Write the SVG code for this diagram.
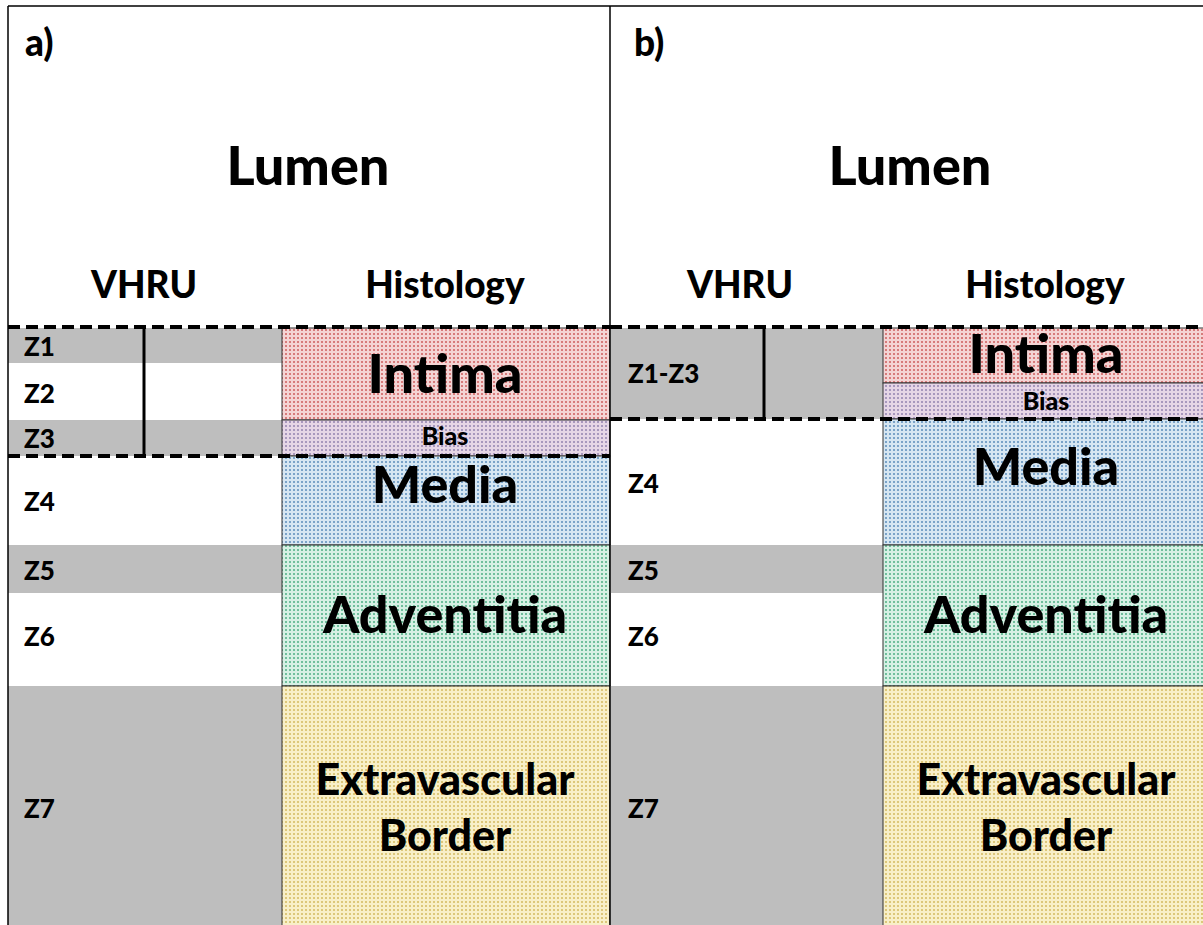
<svg xmlns="http://www.w3.org/2000/svg" width="1203" height="925" viewBox="0 0 1203 925">
<defs>
<pattern id="pInt" width="4" height="4" patternUnits="userSpaceOnUse"><rect width="4" height="4" fill="#f4d4d4"/><rect x="1" y="1" width="2" height="2" fill="#d77b7b"/></pattern>
<pattern id="pBias" width="4" height="4" patternUnits="userSpaceOnUse"><rect width="4" height="4" fill="#e6d6e6"/><rect x="1" y="1" width="2" height="2" fill="#a898bd"/></pattern>
<pattern id="pMed" width="4" height="4" patternUnits="userSpaceOnUse"><rect width="4" height="4" fill="#d6e6f2"/><rect x="1" y="1" width="2" height="2" fill="#7aa3c8"/></pattern>
<pattern id="pAdv" width="4" height="4" patternUnits="userSpaceOnUse"><rect width="4" height="4" fill="#d6f0e4"/><rect x="1" y="1" width="2" height="2" fill="#6fbf9c"/></pattern>
<pattern id="pExt" width="4" height="4" patternUnits="userSpaceOnUse"><rect width="4" height="4" fill="#f8efc8"/><rect x="1" y="1" width="2" height="2" fill="#dcc77a"/></pattern>
</defs>
<style>
text{font-family:Lato,"Liberation Sans",sans-serif;font-weight:900;fill:#000}
.gray{fill:#bebebe}
.hist{stroke:#333;stroke-width:1}
.dash{stroke:#000;stroke-width:4;stroke-dasharray:12 6;fill:none}
.solid{stroke:#000;stroke-width:3;fill:none}
.frame{stroke:#000;stroke-width:1.5;fill:none}
.mid{text-anchor:middle}
.z{font-size:26px}
.big{font-size:54px}
.med{font-size:52px}
.hdr{font-size:37px}
.ext{font-size:43px}
.bias{font-size:25px}
.lbl{font-size:37px}
</style>
<rect width="1203" height="925" fill="#fff"/>

<g id="panel-a">
 <rect class="gray" x="8" y="328" width="274" height="35"/>
 <rect class="gray" x="8" y="420" width="274" height="36"/>
 <rect class="gray" x="8" y="545" width="274" height="48"/>
 <rect class="gray" x="8" y="686" width="274" height="239"/>
 <rect class="hist" x="282" y="328" width="328" height="92" fill="url(#pInt)"/>
 <rect class="hist" x="282" y="420" width="328" height="36" fill="url(#pBias)"/>
 <rect class="hist" x="282" y="456" width="328" height="89" fill="url(#pMed)"/>
 <rect class="hist" x="282" y="545" width="328" height="141" fill="url(#pAdv)"/>
 <rect class="hist" x="282" y="686" width="328" height="245" fill="url(#pExt)"/>
 <text class="lbl" x="25" y="56">a)</text>
 <text class="big mid" x="308" y="185">Lumen</text>
 <text class="hdr mid" x="144" y="298">VHRU</text>
 <text class="hdr mid" x="445" y="298">Histology</text>
 <text class="z" x="24" y="356">Z1</text>
 <text class="z" x="24" y="403">Z2</text>
 <text class="z" x="24" y="448">Z3</text>
 <text class="z" x="24" y="511">Z4</text>
 <text class="z" x="24" y="580">Z5</text>
 <text class="z" x="24" y="646">Z6</text>
 <text class="z" x="24" y="818">Z7</text>
 <text class="big mid" x="445" y="393">Intima</text>
 <text class="bias mid" x="445" y="445">Bias</text>
 <text class="med mid" x="445" y="503">Media</text>
 <text class="med mid" x="445" y="633">Adventitia</text>
 <text class="ext mid" x="445" y="795">Extravascular</text>
 <text class="ext mid" x="445" y="851">Border</text>
</g>

<g id="panel-b">
 <rect class="gray" x="610" y="328" width="273" height="91"/>
 <rect class="gray" x="610" y="545" width="273" height="48"/>
 <rect class="gray" x="610" y="686" width="273" height="239"/>
 <rect class="hist" x="883" y="328" width="325" height="55" fill="url(#pInt)"/>
 <rect class="hist" x="883" y="383" width="325" height="36" fill="url(#pBias)"/>
 <rect class="hist" x="883" y="419" width="325" height="126" fill="url(#pMed)"/>
 <rect class="hist" x="883" y="545" width="325" height="141" fill="url(#pAdv)"/>
 <rect class="hist" x="883" y="686" width="325" height="245" fill="url(#pExt)"/>
 <text class="lbl" x="634" y="56">b)</text>
 <text class="big mid" x="910" y="185">Lumen</text>
 <text class="hdr mid" x="740" y="298">VHRU</text>
 <text class="hdr mid" x="1045" y="298">Histology</text>
 <text class="z" x="628" y="383">Z1-Z3</text>
 <text class="z" x="628" y="493">Z4</text>
 <text class="z" x="628" y="580">Z5</text>
 <text class="z" x="628" y="646">Z6</text>
 <text class="z" x="628" y="818">Z7</text>
 <text class="big mid" x="1046" y="373">Intima</text>
 <text class="bias mid" x="1046" y="410">Bias</text>
 <text class="med mid" x="1046" y="485">Media</text>
 <text class="med mid" x="1046" y="633">Adventitia</text>
 <text class="ext mid" x="1046" y="795">Extravascular</text>
 <text class="ext mid" x="1046" y="851">Border</text>
</g>

<g id="connectors">
 <line class="frame" x1="8" y1="6" x2="1203" y2="6"/>
 <line class="frame" x1="8" y1="6" x2="8" y2="925"/>
 <line class="frame" x1="610" y1="6" x2="610" y2="925"/>
 <line class="dash" x1="8" y1="327" x2="610" y2="327"/>
 <line class="dash" x1="8" y1="456" x2="610" y2="456"/>
 <line class="dash" x1="610" y1="327" x2="1203" y2="327"/>
 <line class="dash" x1="610" y1="419" x2="1203" y2="419"/>
 <line class="solid" x1="144" y1="327" x2="144" y2="456"/>
 <line class="solid" x1="764" y1="327" x2="764" y2="419"/>
</g>
</svg>
